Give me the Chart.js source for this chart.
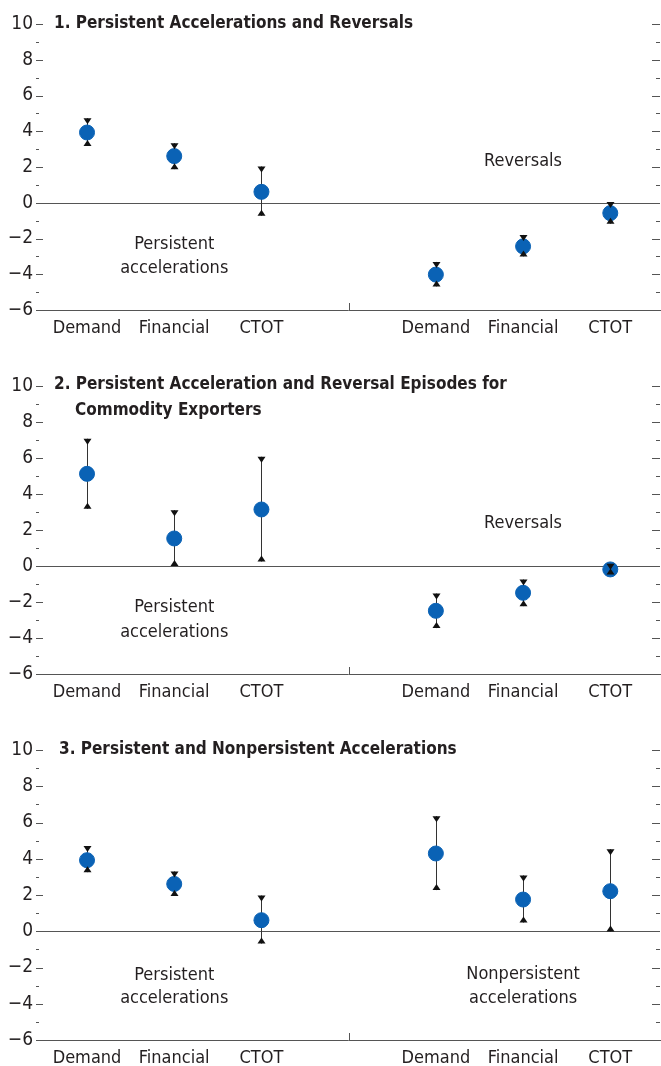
<!DOCTYPE html>
<html>
<head>
<meta charset="utf-8">
<script src="https://cdn.jsdelivr.net/npm/chart.js@4/dist/chart.umd.min.js"></script>
<style>
  body { margin: 0; background: #fff; overflow: hidden; }
  .panel { position: absolute; left: 0; width: 661px; }
  #p1 { top: 0; height: 345px; }
  #p2 { top: 362px; height: 345px; }
  #p3 { top: 726px; height: 340px; }
</style>
</head>
<body>
<div class="panel" id="p1"><canvas id="c1"></canvas></div>
<div class="panel" id="p2"><canvas id="c2"></canvas></div>
<div class="panel" id="p3"><canvas id="c3"></canvas></div>
<script>
const categories = ['Demand', 'Financial', 'CTOT', 'Demand', 'Financial', 'CTOT'];
const slots = [0, 1, 2, 4, 5, 6]; // slot 3 is the gap between the two groups

// panel 1
const p1Est  = [3.93, 2.61, 0.61, -4.02, -2.44, -0.58];
const p1Low  = [3.18, 1.88, -0.73, -4.68, -3.00, -1.17];
const p1High = [4.73, 3.33, 2.03, -3.31, -1.80, 0.04];
// panel 2
const p2Est  = [5.12, 1.53, 3.14, -2.49, -1.49, -0.19];
const p2Low  = [3.18, 0.00, 0.25, -3.45, -2.23, -0.47];
const p2High = [7.07, 3.10, 6.07, -1.53, -0.75, 0.12];
// panel 3
const p3Est  = [3.92, 2.61, 0.61, 4.29, 1.75, 2.21];
const p3Low  = [3.26, 1.95, -0.68, 2.27, 0.48, -0.02];
const p3High = [4.70, 3.30, 1.97, 6.35, 3.08, 4.53];

const yMin = -6, yMax = 10, yStep = 2;

const FONT = '"DejaVu Sans Condensed", "Liberation Sans", sans-serif';
const BLUE = '#0a62b5';
const GREY = '#555';
const TEXT = '#231f20';

function errorBars(ctx, chart, low, high, caps) {
  const xs = chart.scales.x, ys = chart.scales.y;
  ctx.save();
  ctx.strokeStyle = '#333';
  ctx.fillStyle = '#111';
  ctx.lineWidth = 1;
  slots.forEach((s, i) => {
    const x = Math.round(xs.getPixelForValue(s)) + 0.5;
    const yh = ys.getPixelForValue(high[i]);
    const yl = ys.getPixelForValue(low[i]);
    if (!caps) {
      ctx.beginPath(); ctx.moveTo(x, yh); ctx.lineTo(x, yl); ctx.stroke();
    } else {
      ctx.beginPath(); ctx.moveTo(x - 4, yh); ctx.lineTo(x + 4, yh); ctx.lineTo(x, yh + 6); ctx.closePath(); ctx.fill();
      ctx.beginPath(); ctx.moveTo(x - 4, yl); ctx.lineTo(x + 4, yl); ctx.lineTo(x, yl - 6); ctx.closePath(); ctx.fill();
    }
  });
  ctx.restore();
}

function makePanel(id, est, low, high, plotBottom, canvasH, title, notes) {
  const decor = {
    id: 'decor' + id,
    beforeDatasetsDraw(chart) {
      const ctx = chart.ctx, a = chart.chartArea;
      const xs = chart.scales.x, ys = chart.scales.y;
      ctx.save();
      ctx.strokeStyle = GREY;
      ctx.lineWidth = 1;
      // tick marks inside the plot, left and right
      for (let v = yMin + 1; v <= yMax; v++) {
        const y = Math.round(ys.getPixelForValue(v)) + 0.5;
        const len = v % 2 === 0 ? 7 : 3;
        ctx.beginPath(); ctx.moveTo(a.left, y); ctx.lineTo(a.left + len, y); ctx.stroke();
        ctx.beginPath(); ctx.moveTo(a.right - len - 1, y); ctx.lineTo(a.right, y); ctx.stroke();
      }
      // zero line
      const y0 = Math.round(ys.getPixelForValue(0)) + 0.5;
      ctx.beginPath(); ctx.moveTo(a.left, y0); ctx.lineTo(a.right, y0); ctx.stroke();
      // separator tick between the groups
      const xm = Math.round(xs.getPixelForValue(3)) + 0.5;
      ctx.beginPath(); ctx.moveTo(xm, a.bottom); ctx.lineTo(xm, a.bottom - 7); ctx.stroke();
      ctx.restore();
      errorBars(ctx, chart, low, high, false);

      // title and in-plot notes
      ctx.save();
      ctx.fillStyle = TEXT;
      ctx.textBaseline = 'middle';
      ctx.textAlign = 'left';
      ctx.font = 'bold 17px ' + FONT;
      title.forEach(t => ctx.fillText(t.text, t.x, a.top + t.dy));
      ctx.font = '18px ' + FONT;
      ctx.textAlign = 'center';
      notes.forEach(n => ctx.fillText(n.text, xs.getPixelForValue(n.x), ys.getPixelForValue(n.y)));
      ctx.restore();
    },
    afterDatasetsDraw(chart) {
      errorBars(chart.ctx, chart, low, high, true);
    }
  };

  return new Chart(document.getElementById(id), {
    type: 'scatter',
    data: {
      datasets: [{
        data: slots.map((s, i) => ({ x: s, y: est[i] })),
        backgroundColor: BLUE,
        borderColor: BLUE,
        pointRadius: 7.5,
        pointHoverRadius: 7.5
      }]
    },
    options: {
      responsive: true,
      maintainAspectRatio: false,
      animation: false,
      layout: { autoPadding: false, padding: { top: 24, right: 1, left: 0, bottom: 0 } },
      plugins: { legend: { display: false }, tooltip: { enabled: false } },
      scales: {
        x: {
          type: 'linear',
          min: -0.585,
          max: 6.57,
          afterBuildTicks: s => { s.ticks = slots.map(v => ({ value: v })); },
          afterFit: s => {
            s.height = canvasH - plotBottom;
            s.paddingLeft = 0;
            s.paddingRight = 0;
          },
          grid: { display: false, drawTicks: false },
          border: { display: true, color: GREY, width: 1 },
          ticks: {
            autoSkip: false,
            maxRotation: 0,
            padding: 8,
            color: TEXT,
            font: { family: FONT, size: 18 },
            callback: v => categories[slots.indexOf(v)]
          }
        },
        y: {
          min: yMin,
          max: yMax,
          afterBuildTicks: s => {
            const t = [];
            for (let v = yMin; v <= yMax; v += yStep) t.push({ value: v });
            s.ticks = t;
          },
          afterFit: s => {
            s.width = 36;
            s.paddingTop = 0;
            s.paddingBottom = 0;
          },
          grid: { display: false, drawTicks: false },
          border: { display: false },
          ticks: {
            padding: 3,
            color: TEXT,
            font: { family: FONT, size: 19 },
            callback: v => v < 0 ? '\u2212' + Math.abs(v) : String(v)
          }
        }
      }
    },
    plugins: [decor]
  });
}

makePanel('c1', p1Est, p1Low, p1High, 310, 345,
  [{ text: '1. Persistent Accelerations and Reversals', x: 54, dy: 0 }],
  [{ text: 'Persistent', x: 1, y: -2.35 }, { text: 'accelerations', x: 1, y: -3.65 },
   { text: 'Reversals', x: 5, y: 2.3 }]);

makePanel('c2', p2Est, p2Low, p2High, 312, 345,
  [{ text: '2. Persistent Acceleration and Reversal Episodes for', x: 54, dy: -1 },
   { text: 'Commodity Exporters', x: 75, dy: 25 }],
  [{ text: 'Persistent', x: 1, y: -2.32 }, { text: 'accelerations', x: 1, y: -3.71 },
   { text: 'Reversals', x: 5, y: 2.36 }]);

makePanel('c3', p3Est, p3Low, p3High, 314, 340,
  [{ text: '3. Persistent and Nonpersistent Accelerations', x: 59, dy: 0 }],
  [{ text: 'Persistent', x: 1, y: -2.43 }, { text: 'accelerations', x: 1, y: -3.72 },
   { text: 'Nonpersistent', x: 5, y: -2.38 }, { text: 'accelerations', x: 5, y: -3.72 }]);
</script>
</body>
</html>
